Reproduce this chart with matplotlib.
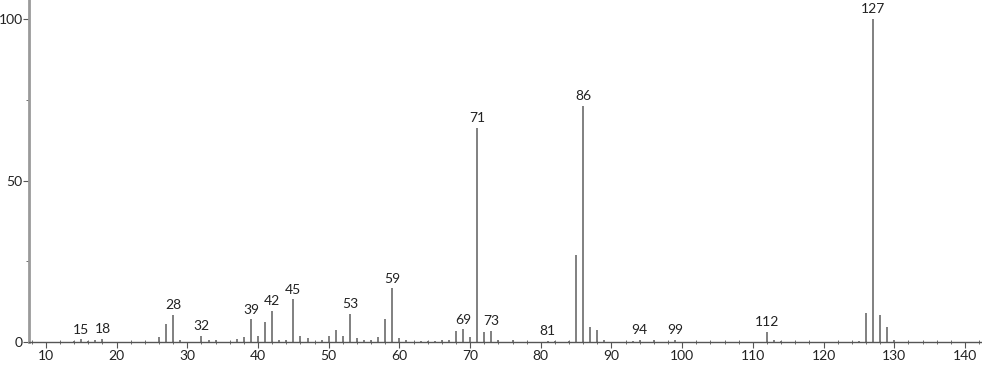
import matplotlib.pyplot as plt
from matplotlib.ticker import MultipleLocator

plt.rcParams['font.family'] = ['Lato', 'DejaVu Sans']

# m/z and relative intensity
mz = [14, 15, 16, 17, 18, 26, 27, 28, 29, 32, 33, 34, 37, 38, 39, 40, 41, 42,
      43, 44, 45, 46, 47, 49, 50, 51, 52, 53, 54, 55, 56, 57, 58, 59, 60, 61,
      63, 64, 65, 66, 67, 68, 69, 70, 71, 72, 73, 74, 76, 81, 82, 84, 85, 86,
      87, 88, 89, 93, 94, 96, 99, 112, 113, 114, 125, 126, 127, 128, 129, 130]
intensity = [0.3, 0.8, 0.3, 0.5, 1.0, 1.4, 5.7, 8.3, 0.5, 2.0, 0.5, 0.5, 0.8,
             1.6, 7.0, 2.0, 6.3, 9.5, 0.6, 0.5, 13.2, 2.0, 1.2, 0.5, 2.0, 3.6,
             2.0, 8.6, 1.2, 0.5, 0.5, 1.6, 7.0, 16.6, 1.3, 0.5, 0.3, 0.4, 0.4,
             0.5, 0.5, 3.4, 3.9, 1.6, 66.3, 3.2, 3.3, 0.6, 0.5, 0.3, 0.4, 0.4,
             27.0, 73.0, 4.5, 3.7, 0.5, 0.3, 0.6, 0.6, 0.6, 3.2, 0.6, 0.4,
             0.4, 9.0, 100.0, 8.3, 4.5, 0.6]
labels = [15, 18, 28, 32, 39, 42, 45, 53, 59, 69, 71, 73, 81, 86, 94, 99, 112, 127]

fig = plt.figure(figsize=(9.82, 3.65), dpi=100)
ax = fig.add_axes([0.0295, 0.063, 0.969, 0.937])

ax.vlines(mz, 0, intensity, color='#767676', linewidth=1.3)

for m in labels:
    h = intensity[mz.index(m)]
    ax.text(m, h + 1.2, str(m), ha='center', va='bottom', fontsize=10, color='#222222')

ax.set_xlim(7.6, 142.2)
ax.set_ylim(0, 105.9)

ax.spines['top'].set_visible(False)
ax.spines['right'].set_visible(False)
ax.spines['left'].set_color('#9a9a9a')
ax.spines['left'].set_linewidth(2)
ax.spines['bottom'].set_color('#555555')
ax.spines['bottom'].set_linewidth(1)

ax.xaxis.set_major_locator(MultipleLocator(10))
ax.xaxis.set_minor_locator(MultipleLocator(2))
ax.yaxis.set_major_locator(MultipleLocator(50))
ax.yaxis.set_minor_locator(MultipleLocator(25))

ax.tick_params(axis='x', which='major', direction='out', length=4, color='#555555',
               labelsize=10, labelcolor='#222222', pad=2)
ax.tick_params(axis='x', which='minor', direction='inout', length=3, color='#555555')
ax.tick_params(axis='y', which='major', direction='out', length=4, color='#555555',
               labelsize=10, labelcolor='#222222', pad=0.5)
ax.tick_params(axis='y', which='minor', direction='out', length=2, color='#555555')

fig.savefig('out.png', dpi=100)
